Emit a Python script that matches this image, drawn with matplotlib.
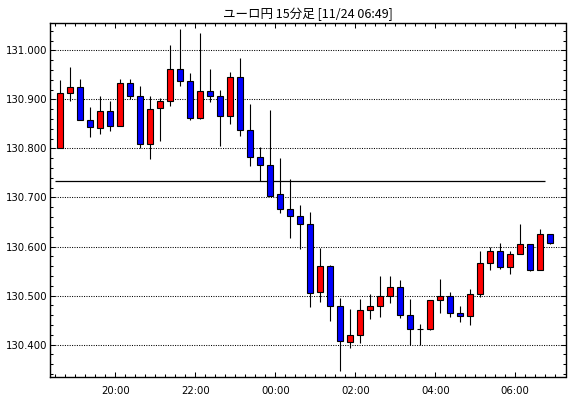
import matplotlib
matplotlib.use("Agg")
import matplotlib.pyplot as plt
from matplotlib.patches import Rectangle
from matplotlib.ticker import FixedLocator, MultipleLocator, FormatStrFormatter
import pandas as pd

title = "ユーロ円 15分足 [11/24 06:49]"
start_time = "2020-11-23 18:30"

opens = [130.801, 130.914, 130.925, 130.859, 130.841, 130.876, 130.846, 130.933, 130.908, 130.810,
         130.882, 130.896, 130.963, 130.937, 130.863, 130.917, 130.908, 130.867, 130.945, 130.837,
         130.782, 130.767, 130.707, 130.676, 130.663, 130.645, 130.508, 130.561, 130.478, 130.406,
         130.420, 130.470, 130.478, 130.500, 130.517, 130.461, 130.432, 130.432, 130.490, 130.500,
         130.464, 130.459, 130.503, 130.567, 130.590, 130.559, 130.584, 130.606, 130.552, 130.625]
highs = [130.939, 130.966, 130.941, 130.884, 130.907, 130.897, 130.941, 130.941, 130.927, 130.908,
         130.904, 131.011, 131.044, 130.954, 131.035, 130.962, 130.919, 130.956, 130.984, 130.891,
         130.804, 130.878, 130.781, 130.737, 130.684, 130.670, 130.597, 130.563, 130.494, 130.472,
         130.492, 130.504, 130.540, 130.540, 130.531, 130.493, 130.441, 130.491, 130.534, 130.507,
         130.478, 130.513, 130.590, 130.599, 130.608, 130.590, 130.646, 130.606, 130.635, 130.625]
lows = [130.801, 130.897, 130.859, 130.824, 130.830, 130.836, 130.846, 130.900, 130.800, 130.778,
        130.816, 130.887, 130.928, 130.859, 130.861, 130.895, 130.806, 130.850, 130.826, 130.765,
        130.733, 130.703, 130.669, 130.618, 130.595, 130.477, 130.487, 130.448, 130.346, 130.393,
        130.404, 130.453, 130.457, 130.485, 130.455, 130.400, 130.400, 130.430, 130.465, 130.457,
        130.446, 130.440, 130.497, 130.552, 130.554, 130.544, 130.584, 130.550, 130.552, 130.606]
closes = [130.914, 130.925, 130.859, 130.843, 130.876, 130.846, 130.933, 130.908, 130.810, 130.880,
          130.897, 130.963, 130.937, 130.863, 130.918, 130.908, 130.867, 130.945, 130.837, 130.782,
          130.767, 130.704, 130.676, 130.663, 130.645, 130.506, 130.561, 130.478, 130.408, 130.420,
          130.470, 130.478, 130.498, 130.517, 130.461, 130.431, 130.432, 130.491, 130.500, 130.464,
          130.459, 130.504, 130.567, 130.590, 130.559, 130.584, 130.606, 130.552, 130.625, 130.608]
ref_level = 130.733

times = pd.date_range(start_time, periods=len(opens), freq="15min")

fig = plt.figure(figsize=(5.70, 3.98), dpi=100)
ax = fig.add_axes([49.7 / 570, (398 - 376.7) / 398, (565.5 - 49.7) / 570, (376.7 - 23) / 398])

body_w = 0.62
for i, (o, h, l, c) in enumerate(zip(opens, highs, lows, closes)):
    ax.vlines(i, l, h, color="black", lw=0.8, zorder=2)
    col = "#ff0000" if c > o else "#0000ff"
    ax.add_patch(Rectangle((i - body_w / 2, min(o, c)), body_w, abs(c - o),
                           facecolor=col, edgecolor="black", lw=0.8, zorder=3))

ax.hlines(ref_level, -0.5, len(opens) - 1.5, color="black", lw=0.9, zorder=1)

ax.set_xlim(-1.06, 50.52)
ax.set_ylim(130.3343, 131.0561)

# y axis
ax.yaxis.set_major_locator(MultipleLocator(0.1))
ax.yaxis.set_minor_locator(MultipleLocator(0.02))
ax.yaxis.set_major_formatter(FormatStrFormatter("%.3f"))
ax.grid(axis="y", which="major", color="black", lw=0.75, linestyle=(0, (1, 1.3)), zorder=0)

# x axis: ticks at candle boundaries
major_pos = [i - 0.5 for i, t in enumerate(times) if t.minute == 0 and t.hour % 2 == 0]
major_lab = [t.strftime("%H:%M") for t in times if t.minute == 0 and t.hour % 2 == 0]
minor_pos = [i - 0.5 for i in range(len(times) + 1)]
ax.xaxis.set_major_locator(FixedLocator(major_pos))
ax.set_xticklabels(major_lab)
ax.xaxis.set_minor_locator(FixedLocator(minor_pos))

ax.tick_params(which="both", direction="in", top=True, right=True, width=0.75, colors="black")
ax.tick_params(which="major", length=3.8)
ax.tick_params(which="minor", length=1.9)
ax.tick_params(axis="x", which="major", labelsize=7.3, pad=7)
ax.tick_params(axis="y", which="major", labelsize=7.3, pad=1.5)

for s in ax.spines.values():
    s.set_linewidth(1.0)
    s.set_color("black")

ax.set_title(title, fontsize=9, pad=3.5, family=["Noto Sans CJK JP", "DejaVu Sans"])

fig.savefig("out.png", dpi=100)
